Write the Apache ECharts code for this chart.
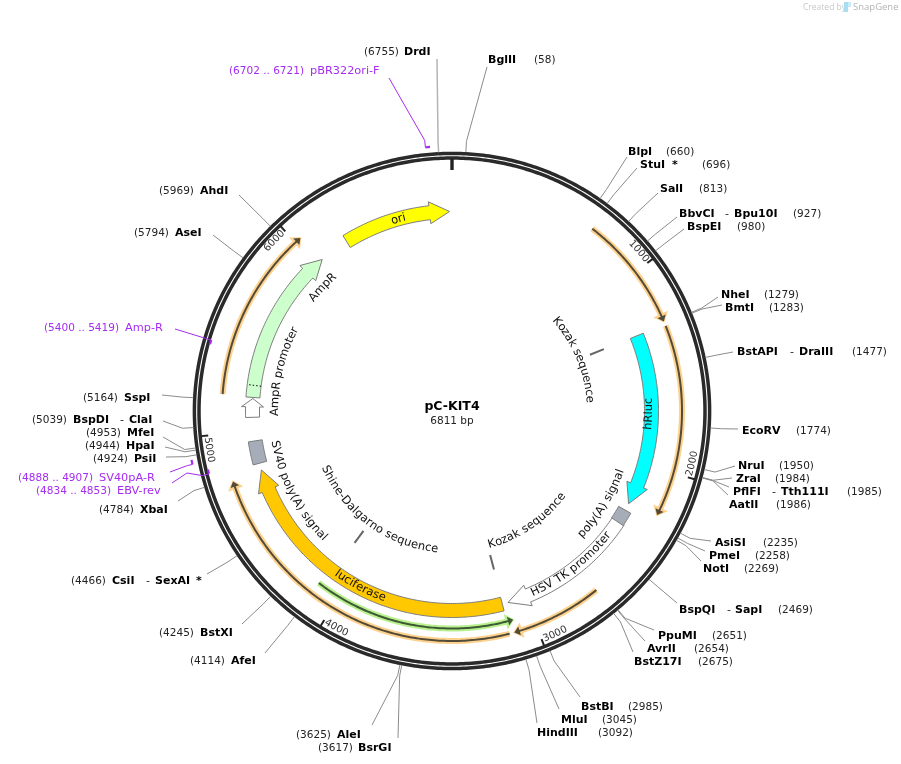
<!DOCTYPE html>
<html>
<head>
<meta charset="utf-8">
<title>pC-KIT4</title>
<script src="https://cdn.jsdelivr.net/npm/echarts@6/dist/echarts.min.js"></script>
<style>
html, body { margin: 0; padding: 0; background: #fff; }
#main { width: 901px; height: 764px; }
</style>
</head>
<body>
<div id="main"></div>
<script>
// plasmid
var plasmidName = 'pC-KIT4';
var plasmidLength = 6811;

// restriction sites
var enzymeNames = ['BglII', 'BlpI', 'StuI', 'SalI', 'BbvCI', 'BspEI', 'NheI', 'BmtI', 'BstAPI', 'EcoRV', 'NruI', 'ZraI', 'PflFI', 'AatII', 'AsiSI', 'PmeI', 'NotI', 'BspQI', 'PpuMI', 'AvrII', 'BstZ17I', 'BstBI', 'MluI', 'HindIII', 'BsrGI', 'AleI', 'AfeI', 'BstXI', 'CsiI', 'XbaI', 'PsiI', 'HpaI', 'MfeI', 'BspDI', 'SspI', 'AseI', 'AhdI', 'DrdI'];
var enzymeSites = [58, 660, 696, 813, 927, 980, 1279, 1283, 1477, 1774, 1950, 1984, 1985, 1986, 2235, 2258, 2269, 2469, 2651, 2654, 2675, 2985, 3045, 3092, 3617, 3625, 4114, 4245, 4466, 4784, 4924, 4944, 4953, 5039, 5164, 5794, 5969, 6755];
var enzymeSecondNames = {BbvCI: 'Bpu10I', BstAPI: 'DraIII', PflFI: 'Tth111I', BspQI: 'SapI', CsiI: 'SexAI', BspDI: 'ClaI'};
var enzymeStarred = ['StuI', 'SexAI'];

// primers
var primerNames = ['pBR322ori-F', 'Amp-R', 'SV40pA-R', 'EBV-rev'];
var primerStarts = [6702, 5400, 4888, 4834];
var primerEnds = [6721, 5419, 4907, 4853];

// arrow features
var featureNames = ['ori', 'AmpR', 'AmpR promoter', 'hRluc', 'HSV TK promoter', 'luciferase'];
var featureTails = [6208, 5182, 5074, 1284, 2337, 3129];
var featureHeadBases = [6689, 5935, 5131, 2117, 2982, 4669];
var featureTips = [6798, 6043, 5176, 2227, 3097, 4783];

// box features
var boxNames = ['poly(A) signal', 'SV40 poly(A) signal'];
var boxStarts = [2266, 4821];
var boxEnds = [2342, 4945];

// short markers
var markerNames = ['Kozak sequence', 'Kozak sequence', 'Shine-Dalgarno sequence'];
var markerSites = [1283, 3125, 4095];

// open reading frames
var orfStarts = [711, 1292, 2670, 3131, 5188, 4120];
var orfEnds = [1269, 2212, 3108, 4771, 6031, 3097];

// ruler
var tickSites = [0, 1000, 2000, 3000, 4000, 5000, 6000];
var tickLabels = ['', '1000', '2000', '3000', '4000', '5000', '6000'];

// curved captions and where they are centred along the map
var captionTexts = ['ori', 'AmpR', 'AmpR promoter', 'hRluc', 'HSV TK promoter', 'luciferase', 'poly(A) signal', 'SV40 poly(A) signal', 'Kozak sequence', 'Kozak sequence', 'Shine-Dalgarno sequence'];
var captionCentres = [6516, 5935, 5358, 1718, 2690, 3928, 2304, 4590, 1273, 2758, 4089];
var captionRadii = [199, 179, 177, 197, 199, 199, 179, 180, 138, 139, 139];

// page layout of the outer labels: same order as enzymeNames
var enzymeNameX = [488, 628, 640, 660, 679, 687, 721, 725, 737, 742, 738, 736, 733, 729, 715, 709, 703, 679, 658, 647, 634, 581, 561, 537, 358, 337, 231, 200, 112, 140, 134, 126, 127, 73, 124, 175, 200, 404];
var enzymeSiteX = [534, 666, 702, 699, 793, 737, 764, 769, 852, 796, 779, 775, 847, 776, 763, 755, 744, 778, 712, 694, 698, 628, 602, 598, 318, 296, 190, 159, 71, 99, 93, 85, 86, 32, 83, 134, 159, 364];
var enzymeLabelY = [60, 152, 165, 189, 214, 227, 295, 308, 352, 431, 466, 479, 492, 505, 543, 556, 569, 610, 636, 649, 662, 707, 720, 733, 748, 735, 661, 633, 581, 510, 459, 446, 433, 420, 398, 233, 191, 52];
var enzymeLeadX = [487, 627, 637, 658, 677, 684, 718, 722, 733, 738, 735, 732, 729, 728, 711, 705, 701, 677, 654, 645, 633, 580, 559, 537, 398, 372, 265, 242, 207, 178, 166, 165, 163, 163, 162, 213, 239, 437];
var enzymeLeadY = [67, 157, 168, 193, 217, 229, 297, 305, 352, 429, 466, 478, 487, 495, 541, 551, 561, 603, 630, 641, 652, 697, 709, 723, 738, 725, 653, 624, 574, 501, 457, 447, 437, 421, 395, 235, 195, 59];
var secondNameX = {BbvCI: [725, 734], BstAPI: [790, 799], PflFI: [772, 781], BspQI: [727, 735], CsiI: [146, 155], BspDI: [120, 129]};
var starX = {StuI: 672, SexAI: 196};
var primerLabelX = [229, 44, 18, 36];
var primerLabelY = [71, 328, 478, 491];
var primerRadii = [265, 251, 265, 251];
var primerLeads = [[[389, 78]], [[175, 329]], [[170, 472]], [[172, 483], [187, 473]]];
var primerElbows = [272, 257, 270, 258];

var FONT = '"DejaVu Sans", Verdana, sans-serif';
var PURPLE = '#a52cf0';
var chart = echarts.init(document.getElementById('main'), null, {renderer: 'canvas'});
var measure = document.createElement('canvas').getContext('2d');

// points along an arc, from one map position to another
function arcPoints(api, r, from, to) {
	var steps = Math.max(1, Math.ceil(Math.abs(to - from) / 12));
	var pts = [];
	for (var i = 0; i <= steps; i++) {
		pts.push(api.coord([r, from + (to - from) * i / steps]));
	}
	return pts;
}

function line(pts, stroke, width, extra) {
	return {
		type: 'polyline',
		shape: {points: pts},
		style: Object.assign({fill: null, stroke: stroke, lineWidth: width}, extra || {})
	};
}

function text(str, x, y, size, fill, weight, rotation, align) {
	return {
		type: 'text',
		x: x,
		y: y,
		rotation: rotation || 0,
		style: {
			text: str,
			fontFamily: FONT,
			fontSize: size,
			fontWeight: weight || 'normal',
			fill: fill,
			align: align || 'left',
			verticalAlign: 'middle'
		}
	};
}

// one glyph at a time, so the caption follows the circle
function curvedText(api, str, centre, r, size, fill) {
	var angle = centre / plasmidLength * 2 * Math.PI;
	var flipped = angle > Math.PI / 2 && angle < Math.PI * 3 / 2;
	var dir = flipped ? -1 : 1;
	measure.font = size + 'px ' + FONT;
	var total = measure.measureText(str).width;
	var children = [];
	for (var i = 0; i < str.length; i++) {
		var before = measure.measureText(str.slice(0, i)).width;
		var w = measure.measureText(str[i]).width;
		var off = (before + w / 2 - total / 2) / r * dir;
		var a = angle + off;
		var p = api.coord([r, a / (2 * Math.PI) * plasmidLength]);
		children.push(text(str[i], p[0], p[1], size, fill, 'normal', flipped ? Math.PI - a : -a, 'center'));
	}
	return children;
}

function customSeries(rows, renderItem) {
	return {
		type: 'custom',
		coordinateSystem: 'polar',
		silent: true,
		animation: false,
		encode: {radius: 0, angle: 1},
		data: rows,
		renderItem: renderItem
	};
}

function renderRing(params, api) {
	var r = api.value(0);
	var pts = arcPoints(api, r, 0, plasmidLength);
	return {
		type: 'polygon',
		shape: {points: pts},
		style: {fill: null, stroke: '#2a2a2a', lineWidth: 3.5}
	};
}

function renderTick(params, api) {
	var site = api.value(1);
	var first = params.dataIndex === 0;
	return line([api.coord([first ? 241 : 245, site]), api.coord([252, site])], '#222', first ? 3.4 : 2);
}

function renderFeature(params, api) {
	var i = params.dataIndex;
	var mid = api.value(0);
	var tail = featureTails[i], base = featureHeadBases[i], tip = featureTips[i];
	var fills = ['#ffff00', '#ccffcc', '#ffffff', '#00ffff', '#ffffff', '#ffc800'];
	var pts = arcPoints(api, mid + 7, tail, base);
	pts.push(api.coord([mid + 11, base]), api.coord([mid, tip]), api.coord([mid - 11, base]));
	pts = pts.concat(arcPoints(api, mid - 7, base, tail));
	return {
		type: 'polygon',
		shape: {points: pts},
		style: {fill: fills[i], stroke: '#7d7d7d', lineWidth: 1}
	};
}

function renderDots(params, api) {
	return line([api.coord([192.5, api.value(1)]), api.coord([206.5, api.value(1)])], '#111', 1, {lineDash: [1.5, 2]});
}

function renderBox(params, api) {
	var i = params.dataIndex;
	var pts = arcPoints(api, 206, boxStarts[i], boxEnds[i]).concat(arcPoints(api, 192, boxEnds[i], boxStarts[i]));
	return {
		type: 'polygon',
		shape: {points: pts},
		style: {fill: '#a6adb8', stroke: '#7d7d7d', lineWidth: 1}
	};
}

function renderMarker(params, api) {
	var site = api.value(1);
	return line([api.coord([149, site]), api.coord([164, site])], '#666', 2);
}

function orfHead(api, r, end, back, half, fill) {
	return {
		type: 'polygon',
		shape: {points: [api.coord([r + half, back]), api.coord([r, end]), api.coord([r - half, back])]},
		style: {fill: fill}
	};
}

function renderOrf(params, api) {
	var i = params.dataIndex;
	var r = api.value(0);
	var from = orfStarts[i], to = orfEnds[i];
	var green = i === 5;
	var halo = green ? '#b9f08e' : '#fdd28e';
	var dark = green ? '#3e5a34' : '#544a38';
	var dir = to > from ? 1 : -1;
	var pts = arcPoints(api, r, from, to - dir * 14);
	return {
		type: 'group',
		children: [
			line(pts, halo, 6),
			orfHead(api, r, to + dir * 6, to - dir * 38, 8, halo),
			line(pts, dark, 2),
			orfHead(api, r, to, to - dir * 26, 4.5, dark)
		]
	};
}

function renderCaption(params, api) {
	var i = params.dataIndex;
	return {type: 'group', children: curvedText(api, captionTexts[i], api.value(1), api.value(0), 11.5, '#111')};
}

function renderEnzyme(params, api) {
	var i = params.dataIndex;
	var name = enzymeNames[i];
	var site = api.value(1);
	var y = enzymeLabelY[i];
	var pts = [api.coord([api.value(0), site]), api.coord([270, site]), [enzymeLeadX[i], enzymeLeadY[i]]];
	var far = name === 'DrdI';
	var children = [
		line(pts, far ? '#b4b4b4' : '#8c8c8c', far ? 1.5 : 1),
		text(name, enzymeNameX[i], y, 11, '#000', 'bold'),
		text('(' + site + ')', enzymeSiteX[i], y, 10.5, '#222')
	];
	var second = enzymeSecondNames[name];
	if (second) {
		children.push(text('-', secondNameX[name][0], y, 11, '#222'));
		children.push(text(second, secondNameX[name][1], y, 11, '#000', 'bold'));
		if (enzymeStarred.indexOf(second) >= 0) {
			children.push(text('*', starX[second], y, 11, '#000', 'bold'));
		}
	} else if (enzymeStarred.indexOf(name) >= 0) {
		children.push(text('*', starX[name], y, 11, '#000', 'bold'));
	}
	return {type: 'group', children: children};
}

function renderPrimer(params, api) {
	var i = params.dataIndex;
	var r = api.value(0);
	var start = primerStarts[i], end = primerEnds[i];
	// the lead line joins the primer at its low end, or its high end for Amp-R
	var join = i === 1 ? end : start;
	var pts = primerLeads[i].slice();
	pts.push(api.coord([primerElbows[i], join]), api.coord([r, join]));
	var y = primerLabelY[i];
	return {
		type: 'group',
		children: [
			line(pts, PURPLE, 1),
			line(arcPoints(api, r, start, end), PURPLE, 2.2),
			text('(' + start + ' .. ' + end + ')', primerLabelX[i], y, 10.5, PURPLE),
			text(primerNames[i], primerLabelX[i] + 81, y, 11.3, PURPLE)
		]
	};
}

function rows(radius, values) {
	return values.map(function(v) {
		return [radius, v];
	});
}

var option = {
	backgroundColor: '#fff',
	animation: false,
	title: {
		text: plasmidName,
		subtext: plasmidLength + ' bp',
		left: 452,
		top: 400,
		textAlign: 'center',
		itemGap: 3,
		padding: 0,
		textStyle: {fontFamily: FONT, fontSize: 12.5, fontWeight: 'bold', color: '#000'},
		subtextStyle: {fontFamily: FONT, fontSize: 10.5, color: '#222'}
	},
	polar: {center: [452, 411], radius: 259},
	radiusAxis: {min: 0, max: 259, show: false},
	angleAxis: {min: 0, max: plasmidLength, startAngle: 90, clockwise: true, show: false},
	graphic: [
		{type: 'text', x: 803, y: 3, style: {text: 'Created by', fontFamily: '"Open Sans", sans-serif', fontSize: 8.5, fill: '#c8c8c8'}},
		{type: 'rect', shape: {x: 844, y: 2, width: 4, height: 10}, style: {fill: '#a9def2'}},
		{type: 'rect', shape: {x: 848, y: 2, width: 3, height: 5}, style: {fill: '#c9ebf7'}},
		{type: 'text', x: 853, y: 2, style: {text: 'SnapGene', fontFamily: '"Open Sans", sans-serif', fontSize: 9.5, fill: '#b4b4b4'}}
	],
	series: [
		customSeries([[257.6, 0], [253, 0]], renderRing),
		customSeries(rows(252, tickSites), renderTick),
		customSeries(rows(246, tickSites.slice(1)), function(params, api) {
			return {type: 'group', children: curvedText(api, tickLabels[params.dataIndex + 1], api.value(1) - 64, 246, 10, '#333')};
		}),
		customSeries(rows(199.5, featureTails), renderFeature),
		customSeries(rows(199.5, [5248]), renderDots),
		customSeries(rows(199, boxStarts), renderBox),
		customSeries(rows(156, markerSites), renderMarker),
		customSeries(orfStarts.map(function(s, i) {
			return [i === 5 ? 217.5 : 230, s];
		}), renderOrf),
		customSeries(captionCentres.map(function(c, i) {
			return [captionRadii[i], c];
		}), renderCaption),
		customSeries(rows(259, enzymeSites), renderEnzyme),
		customSeries(primerStarts.map(function(s, i) {
			return [primerRadii[i], s];
		}), renderPrimer)
	]
};
chart.setOption(option);
</script>
</body>
</html>
